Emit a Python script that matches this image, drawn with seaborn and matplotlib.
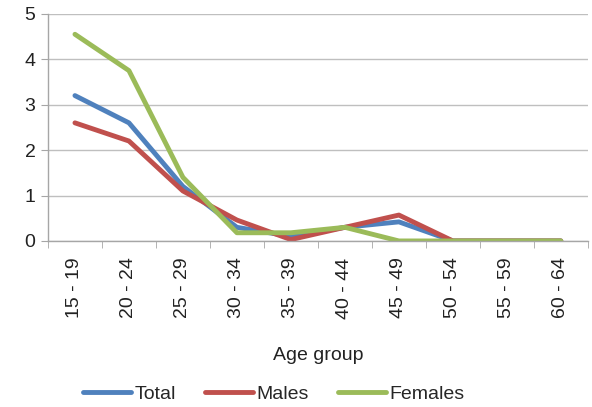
import matplotlib
matplotlib.use("Agg")
import matplotlib.pyplot as plt
import seaborn as sns
import pandas as pd
from matplotlib.ticker import FixedLocator

age_groups = ["15 - 19", "20 - 24", "25 - 29", "30 - 34", "35 - 39",
              "40 - 44", "45 - 49", "50 - 54", "55 - 59", "60 - 64"]
total = [3.2, 2.6, 1.2, 0.3, 0.1, 0.3, 0.42, 0, 0, 0]
males = [2.6, 2.2, 1.1, 0.46, 0.03, 0.3, 0.57, 0, 0, 0]
females = [4.55, 3.75, 1.4, 0.18, 0.18, 0.3, 0, 0, 0, 0]
series = ["Total", "Males", "Females"]
colors = ["#4F81BD", "#C0504D", "#9BBB59"]

rows = []
for name, vals in zip(series, [total, males, females]):
    for ag, v in zip(age_groups, vals):
        rows.append({"Age group": ag, "value": v, "series": name})
df = pd.DataFrame(rows)

sns.set_style("white")
plt.rcParams["font.family"] = ["Liberation Sans", "DejaVu Sans"]

fig = plt.figure(figsize=(5.92, 4.07), dpi=100)
ax = fig.add_axes([0.081, 0.408, 0.912, 0.558])

sns.lineplot(data=df, x="Age group", y="value", hue="series",
             hue_order=series, palette=colors, linewidth=3.5, ax=ax,
             sort=False, legend=True)

ax.set_xlim(-0.5, 9.5)
ax.set_ylim(0, 5)
ax.set_yticks([0, 1, 2, 3, 4, 5])
ax.yaxis.grid(True, color="#BFBFBF", linewidth=1)
ax.set_axisbelow(True)
for s in ["top", "right"]:
    ax.spines[s].set_visible(False)
for s in ["left", "bottom"]:
    ax.spines[s].set_color("#A6A6A6")
    ax.spines[s].set_linewidth(1)

ax.set_xticks(range(len(age_groups)))
ax.set_xticklabels(age_groups, rotation=90, fontsize=14, color="#222222")
ax.tick_params(axis="x", which="major", length=0, pad=12)
ax.xaxis.set_minor_locator(FixedLocator([i - 0.5 for i in range(len(age_groups) + 1)]))
ax.tick_params(axis="x", which="minor", length=5, color="#A6A6A6", bottom=True)
ax.tick_params(axis="y", length=5, color="#A6A6A6", left=True, labelsize=14,
               labelcolor="#222222", pad=4)

ax.set_ylabel("")
ax.set_xlabel("Age group", fontsize=14, color="#222222", labelpad=20)

handles, labels = ax.get_legend_handles_labels()
ax.legend(handles, labels, loc="center", bbox_to_anchor=(0.418, -0.675),
          ncol=3, frameon=False, fontsize=14, handlelength=2.5,
          handletextpad=0.15, columnspacing=1.5)

fig.savefig("out.png", dpi=100)
